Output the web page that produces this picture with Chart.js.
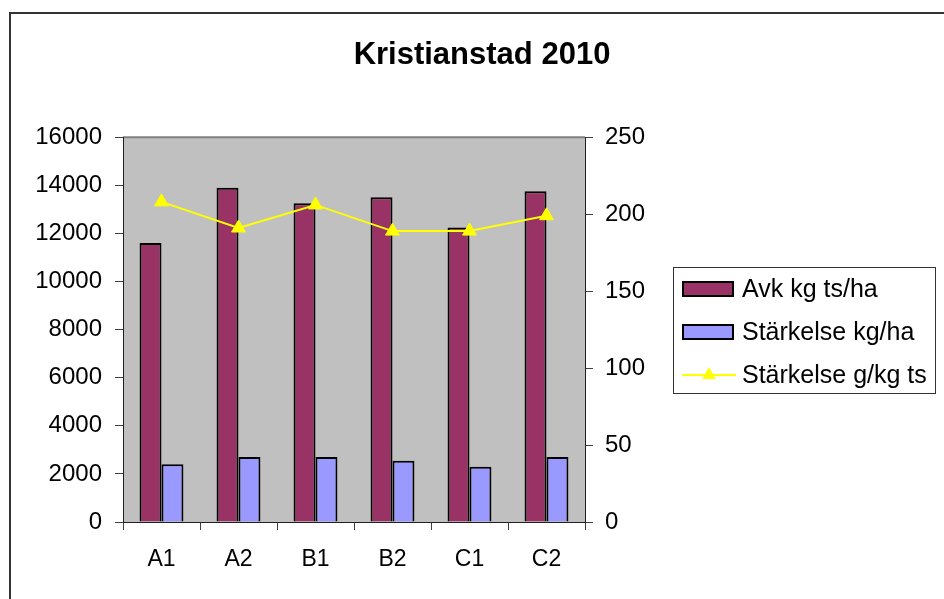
<!DOCTYPE html>
<html>
<head>
<meta charset="utf-8">
<script src="https://cdn.jsdelivr.net/npm/chart.js@4.4.1/dist/chart.umd.min.js"></script>
<style>
  html, body { margin: 0; padding: 0; background: #ffffff; }
  #wrap { width: 944px; height: 599px; position: relative; }
</style>
</head>
<body>
<div id="wrap"><canvas id="c" width="944" height="599"></canvas></div>
<script>
const categories = ['A1', 'A2', 'B1', 'B2', 'C1', 'C2'];
const avkKgTsHa = [11600, 13900, 13250, 13500, 12250, 13750];
const starkelseKgHa = [2400, 2700, 2700, 2550, 2300, 2700];
const starkelseGKgTs = [208, 191, 206, 189, 189, 199];
const seriesNames = ['Avk kg ts/ha', 'Stärkelse kg/ha', 'Stärkelse g/kg ts'];
const titleText = 'Kristianstad 2010';

const FONT = '"Liberation Sans", Arial, sans-serif';

const bgPlugin = {
  id: 'bgPlugin',
  beforeDraw(chart) {
    const ctx = chart.ctx, a = chart.chartArea;
    ctx.save();
    ctx.fillStyle = '#ffffff';
    ctx.fillRect(0, 0, chart.width, chart.height);
    ctx.strokeStyle = '#333333';
    ctx.lineWidth = 2;
    ctx.strokeRect(10, 13, 2000, 2000);
    ctx.fillStyle = '#C0C0C0';
    ctx.fillRect(a.left, a.top, a.right - a.left, a.bottom - a.top);
    ctx.strokeStyle = '#808080';
    ctx.lineWidth = 2;
    ctx.beginPath();
    ctx.moveTo(a.left, a.top);
    ctx.lineTo(a.right, a.top);
    ctx.stroke();
    ctx.restore();
  }
};

const legendPlugin = {
  id: 'boxLegend',
  afterDraw(chart) {
    const ctx = chart.ctx;
    const ds = chart.data.datasets;
    ctx.save();
    ctx.fillStyle = '#ffffff';
    ctx.fillRect(673, 267, 262, 126);
    ctx.strokeStyle = '#333333';
    ctx.lineWidth = 1;
    ctx.strokeRect(673.5, 267.5, 262, 126);
    const rows = [289, 332, 375];
    ctx.font = '25px ' + FONT;
    ctx.textBaseline = 'middle';
    ctx.textAlign = 'left';
    for (let i = 0; i < 3; i++) {
      const y = rows[i];
      const d = ds[i];
      if (d.type === 'line') {
        ctx.strokeStyle = d.borderColor;
        ctx.lineWidth = 2;
        ctx.beginPath();
        ctx.moveTo(682, y);
        ctx.lineTo(736, y);
        ctx.stroke();
        ctx.fillStyle = d.pointBackgroundColor;
        ctx.beginPath();
        const r = 8;
        ctx.moveTo(709, y - r);
        ctx.lineTo(709 + r * 0.866, y + r * 0.5);
        ctx.lineTo(709 - r * 0.866, y + r * 0.5);
        ctx.closePath();
        ctx.fill();
      } else {
        ctx.fillStyle = d.backgroundColor;
        ctx.fillRect(683, y - 7, 50, 14);
        ctx.strokeStyle = '#000000';
        ctx.lineWidth = 2;
        ctx.strokeRect(683, y - 7, 50, 14);
      }
      ctx.fillStyle = '#000000';
      ctx.fillText(d.label, 742, y + 1);
    }
    ctx.restore();
  }
};

const plain = v => String(v);

new Chart(document.getElementById('c'), {
  data: {
    labels: categories,
    datasets: [
      {
        type: 'bar', label: seriesNames[0], data: avkKgTsHa, yAxisID: 'y',
        backgroundColor: '#993366', borderColor: '#000000', borderWidth: 2,
        categoryPercentage: 0.57, barPercentage: 1.0, order: 2
      },
      {
        type: 'bar', label: seriesNames[1], data: starkelseKgHa, yAxisID: 'y',
        backgroundColor: '#9999FF', borderColor: '#000000', borderWidth: 2,
        categoryPercentage: 0.57, barPercentage: 1.0, order: 2
      },
      {
        type: 'line', label: seriesNames[2], data: starkelseGKgTs, yAxisID: 'y1',
        borderColor: '#FFFF00', borderWidth: 2, tension: 0,
        pointStyle: 'triangle', pointRadius: 8, pointHoverRadius: 8,
        pointBackgroundColor: '#FFFF00', pointBorderColor: '#FFFF00', pointBorderWidth: 1,
        order: 0
      }
    ]
  },
  options: {
    responsive: false,
    animation: false,
    events: [],
    layout: { padding: { left: 20, right: 0, top: 0, bottom: 0 } },
    plugins: {
      legend: { display: false },
      tooltip: { enabled: false },
      title: {
        display: true, text: titleText, color: '#000000',
        font: { family: FONT, size: 31, weight: 'bold', lineHeight: 1.2 },
        padding: { top: 37, bottom: 63 }
      }
    },
    scales: {
      x: {
        type: 'category',
        offset: true,
        grid: { offset: true, drawOnChartArea: false, drawTicks: true, tickLength: 8, color: '#404040', lineWidth: 1 },
        border: { display: true, color: '#202020', width: 1 },
        ticks: { color: '#000000', font: { family: FONT, size: 23 }, padding: 16 },
        afterFit(s) { s.height = 77; }
      },
      y: {
        position: 'left', min: 0, max: 16000,
        ticks: { stepSize: 2000, color: '#000000', font: { family: FONT, size: 24 }, padding: 13, callback: plain },
        grid: { drawOnChartArea: false, tickLength: 8, color: '#404040', lineWidth: 1 },
        border: { display: true, color: '#202020', width: 1 },
        afterFit(s) { s.width = 103; }
      },
      y1: {
        position: 'right', min: 0, max: 250,
        ticks: { stepSize: 50, color: '#000000', font: { family: FONT, size: 24 }, padding: 12, callback: plain },
        grid: { drawOnChartArea: false, tickLength: 8, color: '#404040', lineWidth: 1 },
        border: { display: true, color: '#202020', width: 1 },
        afterFit(s) { s.width = 359; }
      }
    }
  },
  plugins: [bgPlugin, legendPlugin]
});
</script>
</body>
</html>
